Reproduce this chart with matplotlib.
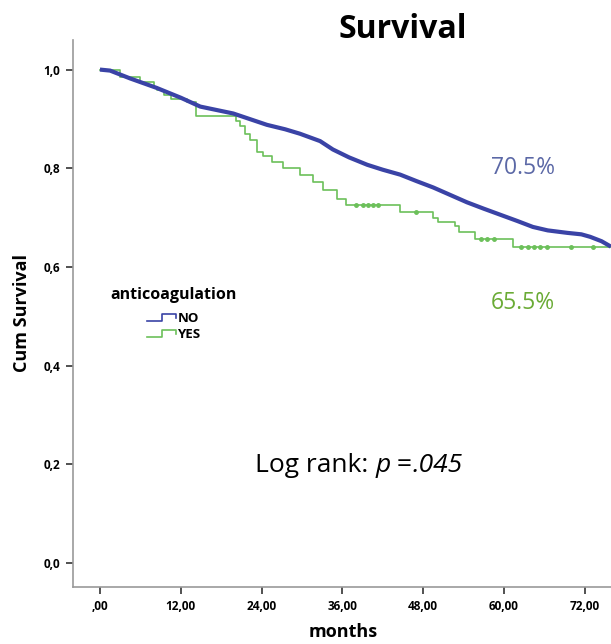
import matplotlib
matplotlib.use("Agg")
import matplotlib.pyplot as plt
from matplotlib.lines import Line2D
from matplotlib.legend_handler import HandlerBase

plt.rcParams['font.family'] = ['Open Sans', 'DejaVu Sans']

# ---- data ----
no_t = [0, 1.5, 4.5, 8.4, 12.0, 14.9, 19.8, 24.8, 27.5, 29.7, 32.7, 34.6,
        37.0, 39.7, 42.0, 44.6, 47.0, 49.5, 52.0, 54.5, 57.0, 59.4, 62.0,
        64.3, 66.5, 69.4, 71.5, 72.8, 74.5, 75.9]
no_s = [1.0, 0.998, 0.982, 0.963, 0.943, 0.925, 0.911, 0.888, 0.879, 0.870,
        0.855, 0.838, 0.822, 0.807, 0.797, 0.787, 0.774, 0.761, 0.746, 0.731,
        0.718, 0.706, 0.693, 0.681, 0.674, 0.669, 0.666, 0.661, 0.652, 0.641]

yes_t = [0, 3.0, 6.0, 8.0, 8.5, 9.5, 10.5, 12.9, 14.3, 20.2, 20.8, 21.6, 22.3,
         23.3, 24.2, 25.5, 27.2, 29.7, 31.7, 33.2, 35.2, 36.5, 44.6, 49.5,
         50.2, 52.8, 53.4, 55.7, 61.3, 75.9]
yes_s = [1.0, 0.985, 0.975, 0.965, 0.958, 0.948, 0.940, 0.935, 0.905, 0.895,
         0.885, 0.870, 0.858, 0.832, 0.824, 0.812, 0.801, 0.787, 0.773, 0.755,
         0.738, 0.726, 0.712, 0.700, 0.690, 0.682, 0.671, 0.657, 0.641, 0.641]
yes_cens_t = [38.0, 39.0, 39.8, 40.5, 41.3, 47.0, 56.6, 57.5, 58.5, 62.6,
              63.5, 64.4, 65.3, 66.4, 70.0, 73.2]

x_ticks = [0, 12, 24, 36, 48, 60, 72]
x_tick_labels = [",00", "12,00", "24,00", "36,00", "48,00", "60,00", "72,00"]
y_ticks = [0.0, 0.2, 0.4, 0.6, 0.8, 1.0]
y_tick_labels = ["0,0", "0,2", "0,4", "0,6", "0,8", "1,0"]
groups = ["NO", "YES"]
pct_labels = ["70.5%", "65.5%"]

BLUE = "#3a43a6"
GREEN = "#6cc05a"
BLUE_TXT = "#5b68a6"
GREEN_TXT = "#6aab35"

fig = plt.figure(figsize=(6.11, 6.44), dpi=100)
ax = fig.add_axes([73/611, 57/644, 1 - 73/611, (604 - 57)/644])

ax.plot(no_t, no_s, color=BLUE, lw=3.0, solid_capstyle='butt', zorder=3)
ax.step(yes_t, yes_s, where='post', color=GREEN, lw=1.2, zorder=2)

def surv_at(t):
    v = yes_s[0]
    for tt, ss in zip(yes_t, yes_s):
        if tt <= t:
            v = ss
    return v
ax.plot(yes_cens_t, [surv_at(t) for t in yes_cens_t], ls='none', marker='o',
        ms=2.5, color=GREEN, mec=GREEN, zorder=2)

ax.set_xlim(-4.0, 75.9)
ax.set_ylim(-0.049, 1.06)
ax.set_xticks(x_ticks)
ax.set_xticklabels(x_tick_labels)
ax.set_yticks(y_ticks)
ax.set_yticklabels(y_tick_labels)
for lab in ax.get_xticklabels() + ax.get_yticklabels():
    lab.set_fontweight('bold')
    lab.set_fontsize(8.5)
ax.tick_params(direction='out', length=5, width=1.2, color='#333333', pad=4)
ax.spines['top'].set_visible(False)
ax.spines['right'].set_visible(False)
for s in ('left', 'bottom'):
    ax.spines[s].set_color('#999999')
    ax.spines[s].set_linewidth(1.2)

ax.set_xlabel("months", fontsize=13, fontweight='bold')
ax.set_ylabel("Cum Survival", fontsize=13, fontweight='bold')
ax.yaxis.set_label_coords((22 - 73) / 538, 0.5)
ax.xaxis.set_label_coords((343 - 73) / 538, (587 - 632) / 547)
ax.xaxis.label.set_va('center')
ax.yaxis.label.set_va('center')

fig.text(403/611, 1 - 30/644, "Survival", fontsize=23, fontweight='bold',
         ha='center', va='center')

ax.text((523 - 73) / 538, (587 - 168) / 547, pct_labels[0],
        transform=ax.transAxes, color=BLUE_TXT, fontsize=16.5,
        ha='center', va='center')
ax.text((523 - 73) / 538, (587 - 303) / 547, pct_labels[1],
        transform=ax.transAxes, color=GREEN_TXT, fontsize=16.5,
        ha='center', va='center')

# "Log rank: p =.045" in pieces (upright / italic)
FS = 19
t1 = ax.text((255 - 73) / 538, (587 - 466) / 547, "Log rank: ",
             transform=ax.transAxes, fontsize=FS, ha='left', va='center')
t2 = ax.annotate("p", xy=(1, 0), xycoords=t1, xytext=(0, 0),
                 textcoords='offset points', fontsize=FS, style='italic',
                 ha='left', va='bottom')
t3 = ax.annotate(" =", xy=(1, 0), xycoords=t2, fontsize=FS,
                 ha='left', va='bottom')
t4 = ax.annotate(".045", xy=(1, 0), xycoords=t3, fontsize=FS,
                 style='italic', ha='left', va='bottom')


class StepHandler(HandlerBase):
    def create_artists(self, legend, orig_handle, xdescent, ydescent, width,
                       height, fontsize, trans):
        x0, x1 = -xdescent, -xdescent + width
        y0, y1 = -ydescent + 0.1 * height, -ydescent + 0.85 * height
        xm = x0 + 0.5 * width
        xs = [x0, xm, xm, x1, x1]
        ys = [y0, y0, y1, y1, y0 + 0.3 * height]
        ln = Line2D(xs, ys, color=orig_handle.get_color(), lw=1.2,
                    transform=trans)
        return [ln]


ax.text((110 - 73) / 538, (587 - 295) / 547, "anticoagulation",
        transform=ax.transAxes, fontsize=11.5, fontweight='bold',
        ha='left', va='center')
handles = [Line2D([], [], color=BLUE), Line2D([], [], color=GREEN)]
leg = ax.legend(handles, groups, loc='upper left',
                bbox_to_anchor=((147 - 73) / 538, (587 - 312) / 547),
                frameon=False, borderpad=0, borderaxespad=0,
                handler_map={Line2D: StepHandler()}, handlelength=2.2,
                handletextpad=0.1, labelspacing=0.2,
                prop={'weight': 'bold', 'size': 9.5})

fig.savefig("out.png", dpi=100)
